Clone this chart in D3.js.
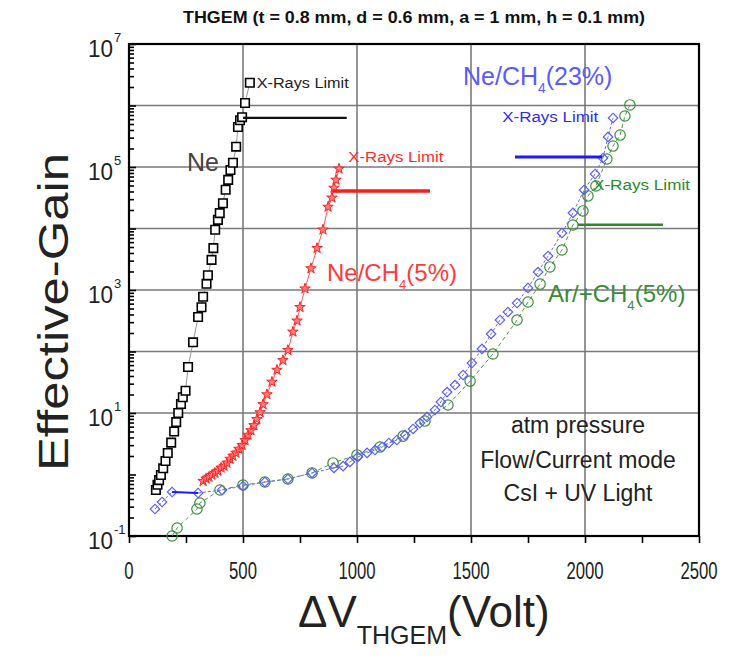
<!DOCTYPE html>
<html>
<head>
<meta charset="utf-8">
<script src="https://cdn.jsdelivr.net/npm/d3@7"></script>
<style>
  html, body { margin: 0; padding: 0; background: #fff; }
  svg { display: block; }
  text { font-family: "Liberation Sans", Arial, sans-serif; }
</style>
</head>
<body>
<svg id="chart" width="732" height="661"></svg>
<script>
// Gain curves: THGEM voltage (V) vs effective gain
const neVolt = [118,125,132,140,150,160,170,185,198,207,216,228,236,248,259,281,303,318,325,340,346,362,370,378,390,398,412,424,435,445,456,470,478,487,496,509,530];
const neGain = [0.56,0.68,0.81,0.98,1.26,1.66,2.24,3.3,5.0,7.1,10,14,18,23,56,141,363,525,776,1260,1740,3090,4790,9550,13800,17800,25700,42700,61700,89100,117000,214000,447000,575000,646000,1100000,2340000];

const neCh4_5Volt = [325,338,351,364,377,390,404,417,430,443,456,469,482,496,509,522,535,548,561,575,588,605,627,649,675,697,719,737,750,772,798,825,851,873,890,899,908,921];
const neCh4_5Gain = [0.78,0.85,0.91,0.98,1.06,1.14,1.28,1.37,1.54,1.79,2.0,2.24,2.6,3.0,3.6,4.4,5.2,6.3,7.9,10.2,13.8,20,32,50,72,105,209,316,525,1050,2240,4790,9550,22400,31600,45700,61700,93300];

const neCh4_23Volt = [114,145,189,303,408,500,596,697,803,899,939,969,1004,1044,1079,1110,1140,1175,1211,1246,1276,1307,1342,1368,1395,1430,1465,1504,1548,1588,1627,1662,1702,1750,1794,1838,1899,1947,1996,2044,2079,2101,2123];
const neCh4_23Gain = [0.275,0.357,0.519,0.5,0.56,0.65,0.755,0.845,1.06,1.28,1.37,1.6,1.93,2.24,2.5,2.8,3.25,3.64,4.39,5.5,6.87,8.6,11.2,15.1,21.9,28.5,41.5,65,110,193,325,439,615,1080,1960,3570,8450,17900,42300,76900,140000,308000,627000];

const arCh4Volt = [189,211,298,311,399,500,596,697,803,895,1000,1101,1202,1298,1399,1496,1596,1702,1750,1803,1846,1899,1947,1991,2013,2048,2096,2123,2154,2175,2197];
const arCh4Gain = [0.1,0.135,0.275,0.344,0.56,0.675,0.755,0.845,1.06,1.54,2.08,2.8,4.2,7.4,13.5,33,91,325,638,1250,2370,4470,11400,19300,33800,49100,135000,219000,331000,675000,1020000];

// X-ray limit markers: [start volt, end volt, gain]
const limitNe = [500, 955, 630000];
const limitNeCh4_5 = [892, 1320, 40700];
const limitNeCh4_23 = [1693, 2075, 145000];
const limitArCh4 = [1969, 2342, 11500];

// Axis ticks
const xTicks = [0, 500, 1000, 1500, 2000, 2500];
const xMinorTicks = [250, 750, 1250, 1750, 2250];
const yLabelExps = [7, 5, 3, 1, -1];
const yGridValues = [10, 100, 1e3, 1e4, 1e5, 1e6];

const svg = d3.select("#chart");
const W = 732, H = 661;
const m = { left: 129, right: 699, top: 44, bottom: 536 };

const x = d3.scaleLinear().domain([0, 2500]).range([m.left, m.right]);
const y = d3.scaleLog().domain([0.1, 1e7]).range([m.bottom, m.top]);

svg.append("rect").attr("width", W).attr("height", H).attr("fill", "#fff");

// Grid
const grid = svg.append("g").attr("stroke", "#7a7a7a").attr("stroke-width", 1.6);
grid.selectAll("line.v").data(xTicks.slice(1, -1)).join("line")
  .attr("x1", d => x(d)).attr("x2", d => x(d))
  .attr("y1", m.top).attr("y2", m.bottom);
grid.selectAll("line.h").data(yGridValues).join("line")
  .attr("x1", m.left).attr("x2", m.right)
  .attr("y1", d => y(d)).attr("y2", d => y(d));

// Y axis minor/major ticks drawn inward
const yTickVals = [];
for (let e = -1; e < 7; e++) for (let k = 1; k < 10; k++) yTickVals.push(k * Math.pow(10, e));
yTickVals.push(1e7);
svg.append("g").attr("transform", `translate(${m.left},0)`)
  .call(d3.axisRight(y).tickValues(yTickVals).tickSize(5).tickFormat(""))
  .call(g => g.select(".domain").remove())
  .call(g => g.selectAll(".tick line").attr("stroke", "#000").attr("stroke-width", 1.6)
    .attr("x2", d => Math.abs(Math.log10(d) - Math.round(Math.log10(d))) < 1e-9 ? 7 : 5));

// X axis ticks below
svg.append("g").attr("transform", `translate(0,${m.bottom})`)
  .call(d3.axisBottom(x).tickValues(xTicks.concat(xMinorTicks)).tickSize(7).tickFormat(""))
  .call(g => g.select(".domain").remove())
  .call(g => g.selectAll(".tick line").attr("stroke", "#000").attr("stroke-width", 1.6));

// Frame
svg.append("rect").attr("x", m.left).attr("y", m.top)
  .attr("width", m.right - m.left).attr("height", m.bottom - m.top)
  .attr("fill", "none").attr("stroke", "#000").attr("stroke-width", 2.2);

// X tick labels
svg.append("g").selectAll("text").data(xTicks).join("text")
  .attr("x", d => x(d)).attr("y", 579)
  .attr("text-anchor", "middle")
  .attr("font-size", 23).attr("fill", "#222")
  .attr("textLength", d => String(d).length * 9.3)
  .attr("lengthAdjust", "spacingAndGlyphs")
  .text(d => d);

// Y tick labels: 10^n
const yl = svg.append("g");
yLabelExps.forEach(e => {
  const yy = y(Math.pow(10, e));
  yl.append("text").attr("x", 113).attr("y", yy + 13)
    .attr("text-anchor", "end").attr("font-size", 24).attr("fill", "#222")
    .attr("textLength", 25).attr("lengthAdjust", "spacingAndGlyphs").text("10");
  yl.append("text").attr("x", 114).attr("y", yy - 2)
    .attr("font-size", 13).attr("fill", "#222").text(String(e));
});

// Title
svg.append("text").attr("x", 183).attr("y", 23)
  .attr("font-size", 16).attr("font-weight", "bold").attr("fill", "#111")
  .attr("textLength", 462).attr("lengthAdjust", "spacingAndGlyphs")
  .text("THGEM (t = 0.8 mm, d = 0.6 mm, a = 1 mm, h = 0.1 mm)");

// Axis titles
svg.append("text")
  .attr("transform", "translate(68,312) rotate(-90)")
  .attr("text-anchor", "middle").attr("font-size", 42).attr("fill", "#222")
  .attr("textLength", 318).attr("lengthAdjust", "spacingAndGlyphs")
  .text("Effective-Gain");

const xt = svg.append("text").attr("x", 298).attr("y", 627).attr("font-size", 44).attr("fill", "#222");
xt.append("tspan").text("\u0394V");
xt.append("tspan").attr("font-size", 25).attr("dy", 17).text("THGEM");
xt.append("tspan").attr("dy", -17).text("(Volt)");

// Series drawing
const lineGen = d3.line().x(d => x(d[0])).y(d => y(d[1]));
const zipPts = (vs, gs) => vs.map((v, i) => [v, gs[i]]);

const plot = svg.append("g");

function drawSeries(pts, opt) {
  plot.append("path").datum(pts).attr("d", lineGen)
    .attr("fill", "none").attr("stroke", opt.line).attr("stroke-width", opt.lw || 1)
    .attr("stroke-dasharray", opt.dash || null);
  plot.append("g").selectAll("path").data(pts).join("path")
    .attr("transform", d => `translate(${x(d[0])},${y(d[1])})${opt.rot ? " rotate(45)" : ""}`)
    .attr("d", d3.symbol().type(opt.symbol).size(opt.size))
    .attr("fill", opt.fill).attr("stroke", opt.stroke).attr("stroke-width", opt.sw);
}

const arPts = zipPts(arCh4Volt, arCh4Gain);
const ne23Pts = zipPts(neCh4_23Volt, neCh4_23Gain);
const ne5Pts = zipPts(neCh4_5Volt, neCh4_5Gain);
const nePts = zipPts(neVolt, neGain);

drawSeries(arPts, { line: "#4a9a4a", dash: "4,3", symbol: d3.symbolCircle, size: 85,
  fill: "none", stroke: "#3c8c3c", sw: 1.2 });
drawSeries(ne23Pts, { line: "#6b6bff", dash: "3,2", symbol: d3.symbolSquare, size: 45, rot: true,
  fill: "none", stroke: "#5a5aff", sw: 1.2 });
// solid segment on the low-voltage end of the Ne/CH4(23%) curve
plot.append("path").datum(ne23Pts.slice(2, 4)).attr("d", lineGen)
  .attr("fill", "none").attr("stroke", "#1a1aff").attr("stroke-width", 2);
drawSeries(ne5Pts, { line: "#ff5a5a", symbol: d3.symbolStar, size: 34,
  fill: "#ff8080", stroke: "#ff2020", sw: 1 });
drawSeries(nePts, { line: "#999", symbol: d3.symbolSquare, size: 72,
  fill: "#fff", stroke: "#000", sw: 1.6 });

// X-ray limit lines
const limits = [
  { l: limitNe, c: "#111", w: 2.2 },
  { l: limitNeCh4_5, c: "#ff1a1a", w: 3.6 },
  { l: limitNeCh4_23, c: "#1a1aff", w: 3 },
  { l: limitArCh4, c: "#2a8a2a", w: 2.4 }
];
plot.selectAll("line.lim").data(limits).join("line")
  .attr("x1", d => x(d.l[0])).attr("x2", d => x(d.l[1]))
  .attr("y1", d => y(d.l[2])).attr("y2", d => y(d.l[2]))
  .attr("stroke", d => d.c).attr("stroke-width", d => d.w);

// Limit labels (anchored in data units)
const limLabels = [
  { v: 560, g: 2.3e6, c: "#222", len: 92 },
  { v: 962, g: 1.45e5, c: "#ff2a2a", len: 95 },
  { v: 1637, g: 6.5e5, c: "#2a2aff", len: 96 },
  { v: 2035, g: 5.1e4, c: "#2a8a2a", len: 97 }
];
plot.selectAll("text.lim").data(limLabels).join("text")
  .attr("x", d => x(d.v)).attr("y", d => y(d.g) + 5)
  .attr("font-size", 14).attr("fill", d => d.c)
  .attr("textLength", d => d.len).attr("lengthAdjust", "spacingAndGlyphs")
  .text("X-Rays Limit");

// Series labels
function subLabel(px, py, color, pre, sub, post, fs) {
  const t = plot.append("text").attr("x", px).attr("y", py).attr("font-size", fs).attr("fill", color);
  t.append("tspan").text(pre);
  if (sub) {
    t.append("tspan").attr("font-size", fs * 0.55).attr("dy", 8).text(sub);
    t.append("tspan").attr("dy", -8).text(post);
  }
}
subLabel(187, 171, "#444", "Ne", null, null, 25);
subLabel(327, 281, "#ff3a3a", "Ne/CH", "4", "(5%)", 24);
subLabel(463, 85, "#5a5aff", "Ne/CH", "4", "(23%)", 25);
subLabel(548, 302, "#3a8a3a", "Ar/+CH", "4", "(5%)", 24);

// Conditions note
const note = svg.append("g").attr("fill", "#222").attr("font-size", 23).attr("text-anchor", "middle");
[["atm pressure", 433], ["Flow/Current mode", 468], ["CsI + UV Light", 501]].forEach(([s, yy]) => {
  note.append("text").attr("x", 578).attr("y", yy).text(s);
});
</script>
</body>
</html>
